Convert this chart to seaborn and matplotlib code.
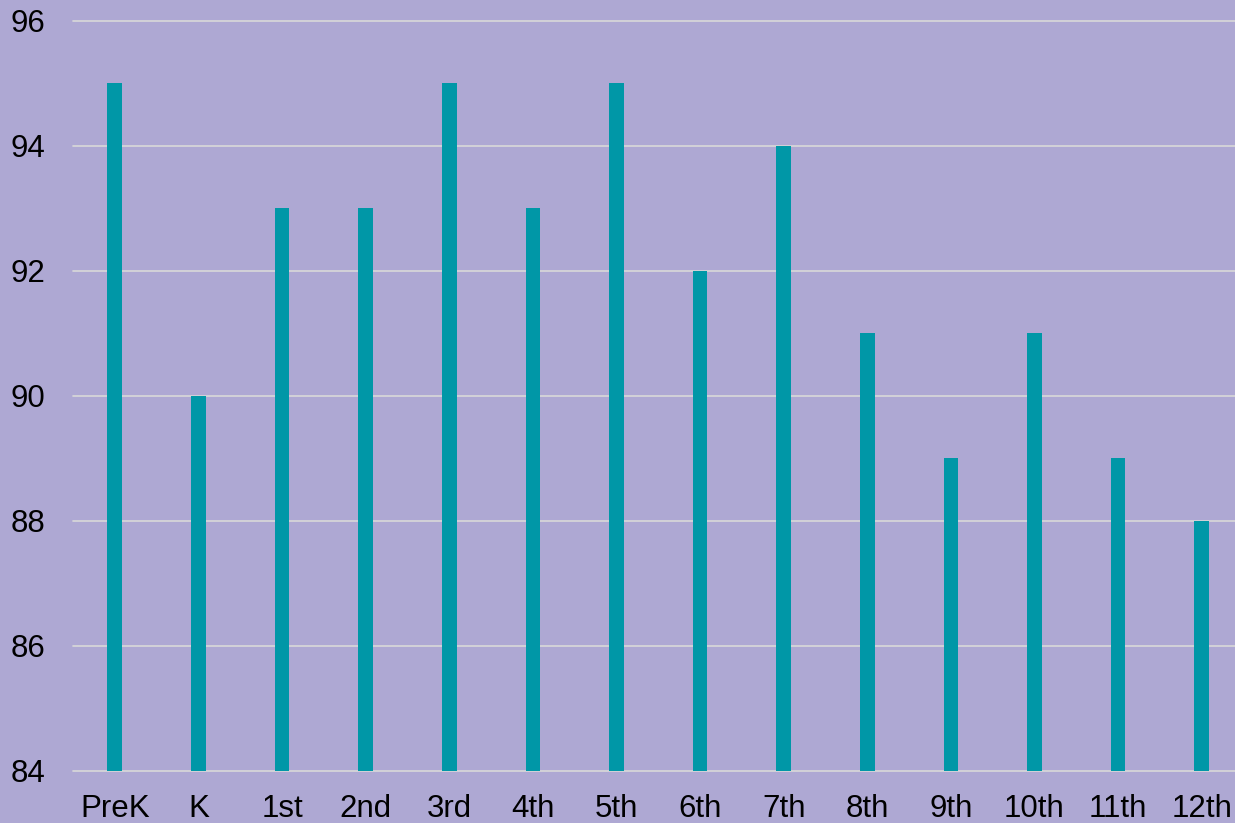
import matplotlib
matplotlib.use("Agg")
import matplotlib.pyplot as plt
import seaborn as sns
import pandas as pd

grades = ["PreK", "K", "1st", "2nd", "3rd", "4th", "5th", "6th", "7th",
          "8th", "9th", "10th", "11th", "12th"]
scores = [95, 90, 93, 93, 95, 93, 95, 92, 94, 91, 89, 91, 89, 88]
y_ticks = [84, 86, 88, 90, 92, 94, 96]

bg = "#AEA8D3"
bar_color = "#0097A7"

sns.set_theme(style="white")
plt.rcParams["font.family"] = ["Liberation Sans", "DejaVu Sans"]

df = pd.DataFrame({"grade": grades, "score": scores})

fig = plt.figure(figsize=(12.35, 8.23), dpi=100, facecolor=bg)
ax = fig.add_axes([73 / 1235, 52.5 / 823, 1170.5 / 1235, 750 / 823])
ax.set_facecolor(bg)

sns.barplot(data=df, x="grade", y="score", color=bar_color, width=0.175,
            saturation=1, linewidth=0, ax=ax, zorder=3)

ax.set_ylim(84, 96)
ax.set_xlim(-0.5, len(grades) - 0.5)
ax.set_yticks(y_ticks)
ax.set_xlabel("")
ax.set_ylabel("")

# grid behind the bars
ax.set_axisbelow(True)
ax.yaxis.grid(True, color="#D9D9D9", linewidth=1.2)
for gl in ax.get_ygridlines():
    gl.set_clip_on(False)

for s in ax.spines.values():
    s.set_visible(False)

ax.tick_params(axis="both", length=0, labelsize=22.5, colors="black")
ax.tick_params(axis="y", pad=20)
ax.tick_params(axis="x", pad=17)

plt.savefig("out.png", dpi=100, facecolor=bg)
plt.close()
